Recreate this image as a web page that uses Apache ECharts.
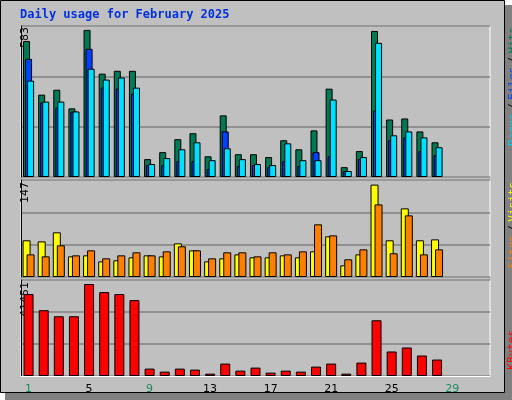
<!DOCTYPE html>
<html><head><meta charset="utf-8">
<script src="https://cdn.jsdelivr.net/npm/echarts@6/dist/echarts.min.js"></script>
<style>html,body{margin:0;padding:0;background:#fff}#c{width:512px;height:400px}</style>
</head><body><div id="c"></div>
<script>
const days = Array.from({length:31},(_,i)=>String(i+1));
const weekend = [1,2,8,9,15,16,22,23,29,30];
const hits  = [525,318,337,265,568,399,410,410,69,96,146,169,80,238,88,88,77,142,107,180,341,38,100,564,222,226,176,134];
const files = [456,288,268,253,495,345,341,322,46,46,61,61,31,176,42,46,38,61,42,96,80,23,69,257,142,153,100,84];
const pages = [372,291,291,253,418,376,384,345,50,73,107,134,65,111,69,50,46,130,65,65,299,23,77,518,161,176,153,115];
const visits= [55.6,54,67.7,31.3,32.8,23.7,25.3,29.8,32.8,31.3,51,40.4,23.7,28.3,34.3,29.8,29.8,32.8,29.8,38.9,61.6,17.7,34.3,140,55.6,104,55.6,57];
const sites = [34.3,31.3,48,32.8,40.4,28.3,32.8,37.4,32.8,38.9,46.5,40.4,28.3,37.4,37.4,31.3,37.4,34.3,38.9,79.8,63.1,26.8,41.9,110,35.9,93.4,34.3,41.9];
const kbytes= [35364,28407,25798,25798,39712,36233,35364,32755,3189,1884,3189,2754,1015,5363,2319,3623,1449,2319,1884,4058,5363,1015,5797,24059,10580,12319,8841,7102];
const maxHits = 583, maxVisits = 147, maxKB = 41451;

const chart = echarts.init(document.getElementById('c'));
const tops = [26,180,280], heights=[151,97,96], maxes=[maxHits,maxVisits,maxKB];
const grids = tops.map((t,i)=>({left:21,right:22,top:t,height:heights[i],show:true,backgroundColor:'#c0c0c0',borderColor:'#ffffff',borderWidth:1}));
const xAxes = [0,1,2].map(i=>({type:'category',gridIndex:i,data:days,boundaryGap:true,
  axisLine:{show:i===2,lineStyle:{color:'#ffffff',width:1}},axisTick:{show:false},
  axisLabel:{show:i===2,margin:8,fontFamily:'DejaVu Sans',fontSize:11,
    formatter:v=>weekend.includes(+v)?'{w|'+v+'}':'{n|'+v+'}',
    rich:{w:{color:'#1b8a5a',fontFamily:'DejaVu Sans',fontSize:11},n:{color:'#000',fontFamily:'DejaVu Sans',fontSize:11}}}}));
const yAxes = maxes.map((m,i)=>({type:'value',gridIndex:i,min:0,max:m,interval:m/3,
  axisLabel:{show:false},axisTick:{show:false},axisLine:{show:true,lineStyle:{color:'#000'}},
  splitLine:{show:true,lineStyle:{color:'#808080',width:1.5}}}));
const bs = (name,data,color,xi,w,gap)=>({type:'bar',name,data,xAxisIndex:xi,yAxisIndex:xi,barWidth:w,barGap:gap,
  itemStyle:{color,borderColor:'#000',borderWidth:1},animation:false});
const rt = (x,y,txt,opts)=>({type:'text',x,y,rotation:Math.PI/2,style:Object.assign({text:txt,fontFamily:'DejaVu Sans',fontSize:11,fill:'#000',align:'right',verticalAlign:'top'},opts)});
chart.setOption({
  animation:false,
  grid:grids,xAxis:xAxes,yAxis:yAxes,
  series:[
    bs('Hits',hits,'#007a55',0,7,'-71%'),
    bs('Files',files,'#0040ff',0,7,'-71%'),
    bs('Pages',pages,'#00e0ff',0,7,'-71%'),
    bs('Visits',visits,'#ffff00',1,8,'-50%'),
    bs('Sites',sites,'#ff8000',1,8,'-50%'),
    bs('KBytes',kbytes,'#ff0000',2,10,'0%')
  ],
  graphic:[
    {type:'rect',z:-10,shape:{x:0,y:0,width:512,height:400},style:{fill:'#fff'}},
    {type:'rect',z:-9,shape:{x:5,y:5,width:507,height:395},style:{fill:'#808080'}},
    {type:'rect',z:-8,shape:{x:0.5,y:0.5,width:504,height:392},style:{fill:'#c0c0c0',stroke:'#000',lineWidth:1}},
    {type:'text',x:20,y:9,style:{text:'Daily usage for February 2025',fontFamily:'DejaVu Sans Mono',fontWeight:'bold',fontSize:12,fill:'#0030e0'}},
    rt(20,27,'583',{}),
    rt(20,182,'147',{}),
    rt(20,282,'41451',{}),
    {type:'text',x:507,y:27,rotation:Math.PI/2,style:{align:'right',verticalAlign:'top',
      text:'{p|Pages} {s|/} {f|Files} {s|/} {h|Hits}',
      rich:{p:{fill:'#00d0f0',fontFamily:'DejaVu Sans Mono',fontSize:11},f:{fill:'#0040ff',fontFamily:'DejaVu Sans Mono',fontSize:11},
            h:{fill:'#007a55',fontFamily:'DejaVu Sans Mono',fontSize:11},s:{fill:'#000',fontFamily:'DejaVu Sans Mono',fontSize:11}}}},
    {type:'text',x:507,y:182,rotation:Math.PI/2,style:{align:'right',verticalAlign:'top',
      text:'{o|Sites} {s|/} {y|Visits}',
      rich:{o:{fill:'#ff8000',fontFamily:'DejaVu Sans Mono',fontSize:11},y:{fill:'#ffff00',fontFamily:'DejaVu Sans Mono',fontSize:11},s:{fill:'#000',fontFamily:'DejaVu Sans Mono',fontSize:11}}}},
    {type:'text',x:507,y:330,rotation:Math.PI/2,style:{align:'right',verticalAlign:'top',text:'KBytes',fill:'#ff0000',fontFamily:'DejaVu Sans Mono',fontSize:11}}
  ]
});
</script></body></html>
